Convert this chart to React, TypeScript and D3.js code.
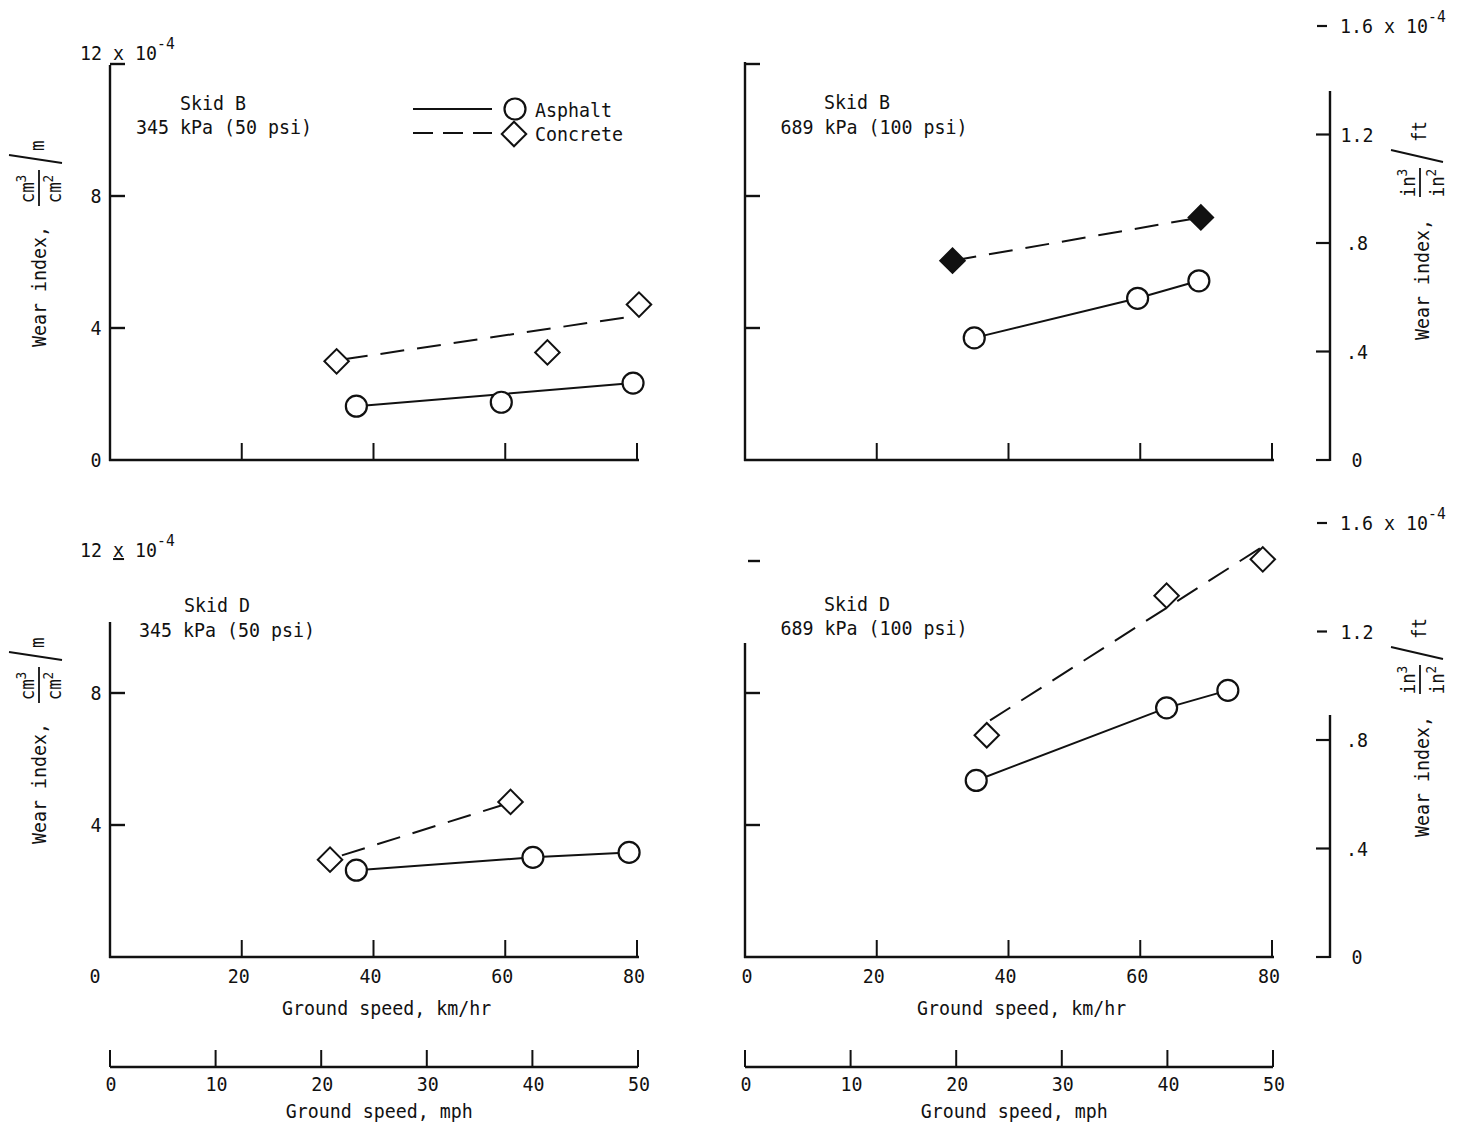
import React from 'react';
import * as d3 from 'd3';

type Pt = [number, number];

// ---------- data (km/hr, wear index x 10^-4 cm^3/cm^2/m) ----------
const KMH_TICKS = [0, 20, 40, 60, 80];
const MPH_TICKS = [0, 10, 20, 30, 40, 50];

const SKID_B_50_ASPHALT: Pt[] = [[37.4, 1.63], [59.4, 1.75], [79.4, 2.33]];
const SKID_B_50_ASPHALT_FIT: Pt[] = [[37.4, 1.63], [79.4, 2.33]];
const SKID_B_50_CONCRETE: Pt[] = [[34.4, 2.99], [66.4, 3.26], [80.3, 4.71]];
const SKID_B_50_CONCRETE_FIT: Pt[] = [[35.5, 3.05], [79.2, 4.35]];

const SKID_B_100_ASPHALT: Pt[] = [[34.8, 3.7], [59.6, 4.9], [68.9, 5.43]];
const SKID_B_100_CONCRETE: Pt[] = [[31.5, 6.04], [69.2, 7.35]];

const SKID_D_50_ASPHALT: Pt[] = [[37.4, 2.63], [64.2, 3.02], [78.8, 3.17]];
const SKID_D_50_CONCRETE: Pt[] = [[33.4, 2.95], [60.8, 4.7]];
const SKID_D_50_CONCRETE_FIT: Pt[] = [[35.2, 3.08], [59.5, 4.6]];

const SKID_D_100_ASPHALT: Pt[] = [[35.1, 5.35], [64.0, 7.55], [73.3, 8.08]];
const SKID_D_100_CONCRETE: Pt[] = [[36.7, 6.72], [64.0, 10.95], [78.6, 12.05]];
const SKID_D_100_CONCRETE_FIT: Pt[] = [[37.2, 7.17], [78.3, 12.4]];

const FONT = '"DejaVu Sans Mono", "Liberation Mono", monospace';
const INK = '#111';
const SX = 0.915;

const fmtRight = (d: number) => (d === 0 ? '0' : d3.format('.1f')(d).replace(/^0/, ''));

function T({ x, y, anchor = 'start', size = 20, children }: { x: number; y: number; anchor?: string; size?: number; children: React.ReactNode }) {
  return (
    <text transform={`translate(${x},${y}) scale(${SX},1)`} textAnchor={anchor as any} fontSize={size}>
      {children}
    </text>
  );
}

interface PanelProps {
  x0: number;
  yBase: number;
  skid: string;
  pressure: string;
  skidPos: [number, number];
  pressPos: [number, number];
  asphalt: Pt[];
  asphaltLine: Pt[];
  concrete: Pt[];
  concreteLine: Pt[];
  concreteFilled?: boolean;
  isLeft: boolean;
  isBottom: boolean;
  leftAxisTopPx: number;
  leftTicks: number[];
  leftDashTicks: number[];
  rightAxisTopPx?: number;
  rightTicks?: number[];
  rightDashTicks?: number[];
  legend?: boolean;
  underlineX?: boolean;
}

function Panel(p: PanelProps) {
  const x = d3.scaleLinear().domain([0, 80]).range([p.x0, p.x0 + 527]);
  const y = d3.scaleLinear().domain([0, 12]).range([p.yBase, p.yBase - 396]);
  const yr = d3.scaleLinear().domain([0, 1.6]).range([p.yBase, p.yBase - 434]);
  const mph = d3.scaleLinear().domain([0, 50]).range([p.x0, p.x0 + 528]);
  const line = d3.line<Pt>().x(d => x(d[0])).y(d => y(d[1]));
  const circle = d3.symbol().type(d3.symbolCircle).size(Math.PI * 10.5 * 10.5)();
  const square = d3.symbol().type(d3.symbolSquare).size(300)();
  const mphY = p.yBase + 110;
  const rX = p.x0 + 585;

  return (
    <g fontFamily={FONT} fill={INK}>
      {/* left axis */}
      <line x1={x(0)} x2={x(0)} y1={p.leftAxisTopPx} y2={p.yBase + 1} stroke={INK} strokeWidth={2.4} />
      {p.leftTicks.map(t => (
        <line key={'lt' + t} x1={x(0)} x2={x(0) + 15} y1={y(t)} y2={y(t)} stroke={INK} strokeWidth={2.4} />
      ))}
      {p.leftDashTicks.map(t => (
        <line key={'ld' + t} x1={x(0) + 3} x2={x(0) + 15} y1={y(t)} y2={y(t)} stroke={INK} strokeWidth={2.4} />
      ))}
      {/* km/hr axis */}
      <line x1={x(0) - 1} x2={x(80) + 2} y1={p.yBase} y2={p.yBase} stroke={INK} strokeWidth={2.6} />
      {KMH_TICKS.filter(t => t > 0).map(t => (
        <line key={'xt' + t} x1={x(t)} x2={x(t)} y1={p.yBase} y2={p.yBase - 17} stroke={INK} strokeWidth={2} />
      ))}
      {p.isLeft && (
        <g>
          {(p.isBottom ? [4, 8] : [0, 4, 8]).map(t => (
            <T key={'yl' + t} x={p.x0 - 14} y={y(t) + 7} anchor="middle">{t}</T>
          ))}
          <T x={p.x0 - 30} y={y(12) - 4}>
            12 <tspan textDecoration={p.underlineX ? 'underline' : undefined}>x</tspan> 10
            <tspan fontSize={16} dy={-11}>-4</tspan>
          </T>
        </g>
      )}
      {p.isBottom && (
        <g>
          {KMH_TICKS.map(t => (
            <T key={'xl' + t} x={x(t) + (t === 0 && p.isLeft ? -15 : t === 0 ? 2 : -3)} y={p.yBase + 26} anchor="middle">{t}</T>
          ))}
          <T x={x(42)} y={p.yBase + 58} anchor="middle">Ground speed, km/hr</T>
          <line x1={mph(0)} x2={mph(50)} y1={mphY} y2={mphY} stroke={INK} strokeWidth={2.6} />
          {MPH_TICKS.map(t => (
            <line key={'mt' + t} x1={mph(t)} x2={mph(t)} y1={mphY} y2={mphY - 17} stroke={INK} strokeWidth={2} />
          ))}
          {MPH_TICKS.map(t => (
            <T key={'ml' + t} x={mph(t) + 1} y={mphY + 24} anchor="middle">{t}</T>
          ))}
          <T x={mph(25.5)} y={mphY + 51} anchor="middle">Ground speed, mph</T>
        </g>
      )}
      {/* left title */}
      {p.isLeft && (
        <g transform={`translate(46,${p.yBase - 113}) rotate(-90)`}>
          <T x={0} y={0}>Wear index,</T>
          <T x={158} y={-12} anchor="middle" size={19}>cm<tspan fontSize={14} dy={-8}>3</tspan></T>
          <line x1={141} x2={177} y1={-7} y2={-7} stroke={INK} strokeWidth={1.8} />
          <T x={158} y={15} anchor="middle" size={19}>cm<tspan fontSize={14} dy={-8}>2</tspan></T>
          <line x1={184} x2={192} y1={16} y2={-37} stroke={INK} strokeWidth={1.8} />
          <T x={196} y={-2} size={19}>m</T>
        </g>
      )}
      {/* right axis */}
      {!p.isLeft && p.rightTicks && (
        <g>
          <line x1={rX} x2={rX} y1={p.rightAxisTopPx} y2={p.yBase + 1} stroke={INK} strokeWidth={2.4} />
          {p.rightTicks.map(t => (
            <line key={'rt' + t} x1={rX - 14} x2={rX} y1={yr(t)} y2={yr(t)} stroke={INK} strokeWidth={2.2} />
          ))}
          {(p.rightDashTicks || []).map(t => (
            <line key={'rd' + t} x1={rX - 13} x2={rX - 3} y1={yr(t)} y2={yr(t)} stroke={INK} strokeWidth={2.2} />
          ))}
          {[...p.rightTicks, ...(p.rightDashTicks || [])].filter(t => t < 1.6).map(t => (
            <T key={'rl' + t} x={rX + 27} y={yr(t) + 7} anchor="middle">{fmtRight(t)}</T>
          ))}
          <T x={rX + 10} y={yr(1.6) + 7}>
            1.6 x 10<tspan fontSize={16} dy={-11}>-4</tspan>
          </T>
          <g transform={`translate(1429,${p.yBase - 120}) rotate(-90)`}>
            <T x={0} y={0}>Wear index,</T>
            <T x={157} y={-14} anchor="middle" size={19}>in<tspan fontSize={14} dy={-8}>3</tspan></T>
            <line x1={143} x2={172} y1={-9} y2={-9} stroke={INK} strokeWidth={1.8} />
            <T x={157} y={15} anchor="middle" size={19}>in<tspan fontSize={14} dy={-8}>2</tspan></T>
            <line x1={178} x2={190} y1={14} y2={-38} stroke={INK} strokeWidth={1.8} />
            <T x={198} y={-3} size={19}>ft</T>
          </g>
        </g>
      )}
      {/* panel labels */}
      <T x={p.skidPos[0]} y={p.skidPos[1]} anchor="middle">{p.skid}</T>
      <T x={p.pressPos[0]} y={p.pressPos[1]} anchor="middle">{p.pressure}</T>
      {/* data lines */}
      <path d={line(p.concreteLine) || ''} fill="none" stroke={INK} strokeWidth={2} strokeDasharray="24,13" />
      <path d={line(p.asphaltLine) || ''} fill="none" stroke={INK} strokeWidth={2} />
      {p.concrete.map((d, i) => (
        <path key={'c' + i} d={square || ''} transform={`translate(${x(d[0])},${y(d[1])}) rotate(45)`}
          fill={p.concreteFilled ? INK : '#fff'} stroke={INK} strokeWidth={2} />
      ))}
      {p.asphalt.map((d, i) => (
        <path key={'a' + i} d={circle || ''} transform={`translate(${x(d[0])},${y(d[1])})`}
          fill="#fff" stroke={INK} strokeWidth={2.2} />
      ))}
      {p.legend && (
        <g>
          <line x1={413} x2={492} y1={109} y2={109} stroke={INK} strokeWidth={2} />
          <path d={circle || ''} transform="translate(515,109)" fill="#fff" stroke={INK} strokeWidth={2.2} />
          <T x={535} y={117}>Asphalt</T>
          <line x1={413} x2={492} y1={133} y2={133} stroke={INK} strokeWidth={2} strokeDasharray="20,10" />
          <path d={square || ''} transform="translate(514,134) rotate(45)" fill="#fff" stroke={INK} strokeWidth={2} />
          <T x={535} y={141}>Concrete</T>
        </g>
      )}
    </g>
  );
}

export default function App() {
  return (
    <svg width={1460} height={1130} style={{ position: 'absolute', left: 0, top: 0, background: '#fff' }}>
      <rect width={1460} height={1130} fill="#fff" />
      <Panel x0={110} yBase={460} skid="Skid B" pressure="345 kPa (50 psi)"
        skidPos={[213, 110]} pressPos={[224, 134]}
        asphalt={SKID_B_50_ASPHALT} asphaltLine={SKID_B_50_ASPHALT_FIT}
        concrete={SKID_B_50_CONCRETE} concreteLine={SKID_B_50_CONCRETE_FIT}
        isLeft isBottom={false} leftAxisTopPx={65} leftTicks={[4, 8, 12]} leftDashTicks={[]} legend />
      <Panel x0={745} yBase={460} skid="Skid B" pressure="689 kPa (100 psi)"
        skidPos={[857, 109]} pressPos={[874, 134]}
        asphalt={SKID_B_100_ASPHALT} asphaltLine={SKID_B_100_ASPHALT}
        concrete={SKID_B_100_CONCRETE} concreteLine={SKID_B_100_CONCRETE} concreteFilled
        isLeft={false} isBottom={false} leftAxisTopPx={62} leftTicks={[4, 8, 12]} leftDashTicks={[]}
        rightAxisTopPx={91} rightTicks={[0, 0.4, 0.8, 1.2]} rightDashTicks={[1.6]} />
      <Panel x0={110} yBase={957} skid="Skid D" pressure="345 kPa (50 psi)"
        skidPos={[217, 612]} pressPos={[227, 637]}
        asphalt={SKID_D_50_ASPHALT} asphaltLine={SKID_D_50_ASPHALT}
        concrete={SKID_D_50_CONCRETE} concreteLine={SKID_D_50_CONCRETE_FIT}
        isLeft isBottom leftAxisTopPx={622} leftTicks={[4, 8]} leftDashTicks={[]} underlineX />
      <Panel x0={745} yBase={957} skid="Skid D" pressure="689 kPa (100 psi)"
        skidPos={[857, 611]} pressPos={[874, 635]}
        asphalt={SKID_D_100_ASPHALT} asphaltLine={SKID_D_100_ASPHALT}
        concrete={SKID_D_100_CONCRETE} concreteLine={SKID_D_100_CONCRETE_FIT}
        isLeft={false} isBottom leftAxisTopPx={643} leftTicks={[4, 8]} leftDashTicks={[12]}
        rightAxisTopPx={715} rightTicks={[0, 0.4, 0.8]} rightDashTicks={[1.2, 1.6]} />
    </svg>
  );
}
